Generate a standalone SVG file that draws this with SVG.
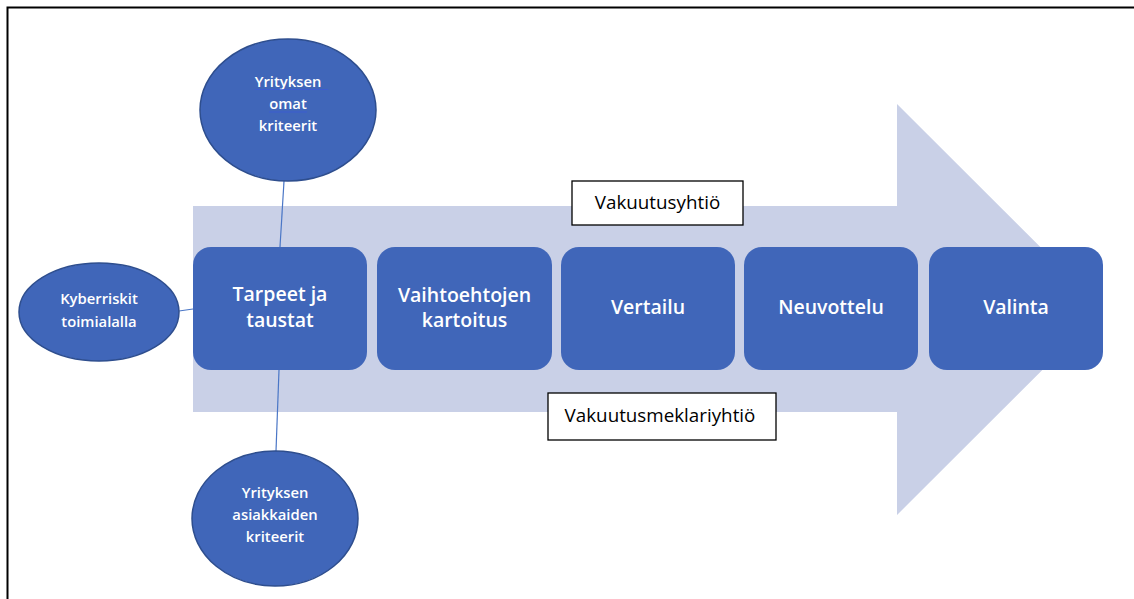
<svg xmlns="http://www.w3.org/2000/svg" width="1134" height="599" viewBox="0 0 1134 599">
<style>
.step{fill:#4066B9;}
.st{font-family:"Open Sans","Liberation Sans",sans-serif;fill:#fff;font-size:19.5px;font-weight:600;text-anchor:middle;}
.oval{fill:#4066B9;stroke:#2E4E8E;stroke-width:1.5;}
.ot{font-family:"Open Sans","Liberation Sans",sans-serif;fill:#fff;font-size:14.8px;font-weight:600;text-anchor:middle;}
.lab{fill:#fff;stroke:#000;stroke-width:1.3;}
.lt{font-family:"Open Sans","Liberation Sans",sans-serif;fill:#000;font-size:18.8px;text-anchor:middle;}
.conn{stroke:#4A76C6;stroke-width:1.2;fill:none;}
.ul{stroke:#3B5BD6;stroke-width:0.8;}
</style>
<rect x="0" y="0" width="1134" height="599" fill="#fff"/>
<rect x="7.5" y="7.5" width="1140" height="610" fill="none" stroke="#000" stroke-width="2"/>
<g id="big-arrow">
<polygon points="193,206 897,206 897,104 1103,309.5 897,515 897,412 193,412" fill="#C9D0E7"/>
</g>
<g id="connectors">
<line class="conn" x1="284" y1="181" x2="280" y2="247"/>
<line class="conn" x1="179" y1="311" x2="193" y2="309"/>
<line class="conn" x1="279" y1="370" x2="276" y2="451"/>
</g>
<g id="step-tarpeet">
<rect class="step" x="193" y="247" width="174" height="123" rx="18"/>
<text class="st" x="280" y="301">Tarpeet ja</text>
<text class="st" x="280" y="327">taustat</text>
</g>
<g id="step-vaihtoehtojen">
<rect class="step" x="377" y="247" width="175" height="123" rx="18"/>
<text class="st" x="464.5" y="302">Vaihtoehtojen</text>
<text class="st" x="464.5" y="327">kartoitus</text>
</g>
<g id="step-vertailu">
<rect class="step" x="561" y="247" width="174" height="123" rx="18"/>
<text class="st" x="648" y="314">Vertailu</text>
</g>
<g id="step-neuvottelu">
<rect class="step" x="744" y="247" width="174" height="123" rx="18"/>
<text class="st" x="831" y="314">Neuvottelu</text>
</g>
<g id="step-valinta">
<rect class="step" x="929" y="247" width="174" height="123" rx="18"/>
<text class="st" x="1016" y="314">Valinta</text>
</g>
<g id="label-vakuutusyhtio">
<rect class="lab" x="572" y="181" width="171" height="44"/>
<text class="lt" x="657.5" y="209">Vakuutusyhtiö</text>
</g>
<g id="label-vakuutusmeklariyhtio">
<rect class="lab" x="548" y="393" width="228" height="47"/>
<text class="lt" x="660" y="422">Vakuutusmeklariyhtiö</text>
</g>
<g id="oval-omat">
<ellipse class="oval" cx="288" cy="110" rx="88" ry="71"/>
<text class="ot" x="288" y="87">Yrityksen</text>
<text class="ot" x="288" y="109">omat</text>
<text class="ot" x="288" y="131">kriteerit</text>
<line class="ul" x1="255" y1="89.5" x2="328" y2="89.5"/>
<line class="ul" x1="269" y1="112" x2="307" y2="112"/>
</g>
<g id="oval-kyberriskit">
<ellipse class="oval" cx="99" cy="312" rx="80" ry="49"/>
<text class="ot" x="99" y="304">Kyberriskit</text>
<text class="ot" x="99" y="327">toimialalla</text>
</g>
<g id="oval-asiakkaiden">
<ellipse class="oval" cx="275" cy="518.5" rx="83" ry="67.5"/>
<text class="ot" x="275" y="498">Yrityksen</text>
<text class="ot" x="275" y="520">asiakkaiden</text>
<text class="ot" x="275" y="542">kriteerit</text>
</g>
</svg>
